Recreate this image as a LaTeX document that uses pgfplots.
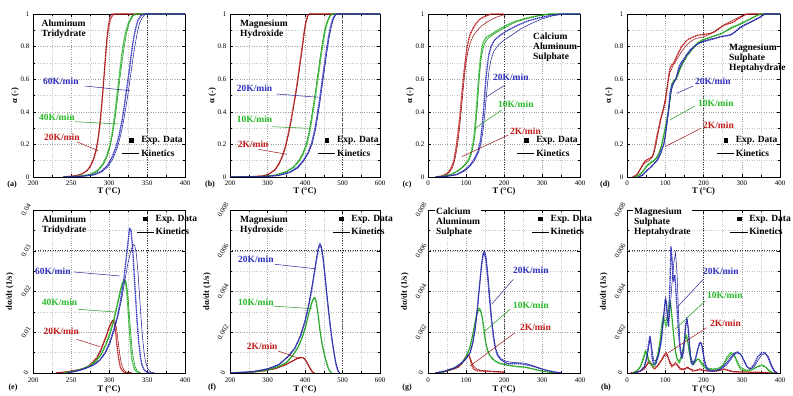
\documentclass[border=0pt]{standalone}
\usepackage{pgfplots}
\pgfplotsset{compat=1.18}
\usepackage{fontspec}
\setmainfont{Liberation Serif}
\definecolor{cR}{RGB}{192,28,28}
\definecolor{cG}{RGB}{40,185,40}
\definecolor{cB}{RGB}{48,48,190}
\newcommand{\labfont}{\fontsize{8.5}{9}\selectfont\bfseries}
\pgfplotsset{
  panel/.style={
    scale only axis, width=152pt, height=163pt,
    axis line style={line width=0.6pt},
    grid=both,
    major grid style={gray!75, dotted, line width=0.45pt},
    minor grid style={gray!45, dotted, line width=0.4pt},
    minor x tick num=1, minor y tick num=1,
    major tick length=3pt, minor tick length=1.6pt,
    tick style={black, line width=0.4pt},
    tick label style={font=\fontsize{7}{8}\selectfont},
    /pgf/number format/assume math mode=true,
    scaled y ticks=false,
    xlabel={T (°C)},
    xticklabel style={yshift=-0.5pt},
    every axis x label/.style={at={(axis description cs:0.5,0)}, anchor=center, yshift=-14.5pt, font=\labfont},
    every axis y label/.style={at={(axis description cs:-0.118,0.5)}, rotate=90, anchor=center, font=\labfont},
    legend cell align=left,
    legend style={draw=none, fill=none, inner sep=0pt,
      font=\fontsize{9.5}{10}\selectfont\bfseries, row sep=1.3pt,
      nodes={inner sep=1.5pt, text height=7pt, text depth=2pt}},
  },
  toprow/.style={ymin=0, ymax=1, ytick={0,0.2,0.4,0.6,0.8,1},
    yticklabels={0,0.2,0.4,0.6,0.8,1}, ylabel={α (-)},
    legend style={at={(0.585,0.262)}, anchor=north west}},
  botrow/.style={ylabel={dα/dt (1/s)},
    every axis y label/.style={at={(axis description cs:-0.152,0.5)}, rotate=90, anchor=center, font=\labfont},
    every axis x label/.append style={yshift=-1.5pt},
    legend style={at={(0.68,0.985)}, anchor=north west},
    xticklabel style={yshift=-1pt},
    yticklabel style={xshift=-7pt, rotate=60, anchor=center}},
  refx/.style={extra x ticks={#1}, extra x tick labels={},
    extra x tick style={grid=major, major grid style={black!80, dotted, line width=0.7pt}, tick style={draw=none}}},
  refy/.style={extra y ticks={#1}, extra y tick labels={},
    extra y tick style={grid=major, major grid style={black!80, dotted, line width=0.7pt}, tick style={draw=none}}},
  exp/.style={line width=1.3pt, dash pattern=on 1.3pt off 0.6pt, line join=round},
  kin/.style={line width=0.55pt},
}
\newcommand{\legendentries}{%
  \addlegendimage{only marks, mark=square*, mark size=1.8pt, black}
  \addlegendentry{Exp. Data}
  \addlegendimage{black, line width=0.6pt}
  \addlegendentry{Kinetics}}
\begin{document}
\begin{tikzpicture}[x=1pt,y=1pt]
\useasboundingbox (0,0) rectangle (793,396);
% ---------------- (a)
\begin{axis}[panel, toprow, at={(33pt,219pt)}, anchor=south west,
  xmin=200, xmax=400, xtick={200,250,300,350,400}, refx=350]
\legendentries
\addplot[exp, cR] coordinates {(240,0)(250,0.005)(260,0.012)(265,0.02)(270,0.035)(275,0.06)(280,0.11)(283,0.16)(286,0.24)(288,0.32)(290,0.42)(292,0.53)(294,0.65)(296,0.77)(298,0.87)(300,0.93)(302,0.97)(305,0.995)(308,1)(400,1)};
\addplot[kin, cR!80!black] coordinates {(240,0)(255,0.006)(265,0.02)(272,0.045)(278,0.09)(283,0.17)(286,0.25)(289,0.37)(291,0.47)(293,0.59)(295,0.72)(297,0.84)(299,0.93)(301,0.98)(303,1)(400,1)};
\addplot[exp, cG] coordinates {(240,0)(260,0.005)(275,0.015)(285,0.04)(292,0.08)(297,0.13)(301,0.19)(304,0.26)(307,0.36)(310,0.48)(313,0.6)(316,0.72)(319,0.82)(322,0.89)(326,0.95)(330,0.985)(334,1)(400,1)};
\addplot[kin, cG!80!black] coordinates {(240,0)(260,0.004)(275,0.013)(285,0.035)(293,0.08)(298,0.13)(302,0.2)(305,0.27)(308,0.36)(311,0.47)(314,0.59)(317,0.7)(320,0.8)(323,0.88)(327,0.95)(332,0.99)(336,1)(400,1)};
\addplot[exp, cB] coordinates {(240,0)(265,0.005)(280,0.015)(290,0.035)(298,0.07)(304,0.12)(309,0.18)(313,0.25)(317,0.34)(320,0.43)(323,0.53)(326,0.63)(329,0.74)(332,0.84)(335,0.91)(338,0.96)(342,0.99)(346,1)(400,1)};
\addplot[kin, cB!80!black] coordinates {(240,0)(265,0.004)(280,0.012)(290,0.03)(298,0.06)(305,0.11)(311,0.18)(315,0.25)(319,0.34)(322,0.42)(325,0.51)(328,0.61)(331,0.71)(334,0.8)(337,0.88)(340,0.94)(344,0.98)(348,1)(400,1)};
\end{axis}
% ---------------- (b)
\begin{axis}[panel, toprow, width=150pt, at={(230pt,219pt)}, anchor=south west,
  xmin=200, xmax=600, xtick={200,300,400,500,600}, refx=500]
\legendentries
\addplot[exp, cR] coordinates {(200,0)(260,0.002)(290,0.008)(305,0.02)(320,0.045)(330,0.08)(340,0.13)(348,0.19)(355,0.26)(362,0.34)(368,0.42)(374,0.5)(380,0.59)(386,0.69)(392,0.79)(397,0.88)(402,0.95)(407,0.99)(410,1)(600,1)};
\addplot[kin, cR!80!black] coordinates {(200,0)(260,0.002)(290,0.007)(305,0.018)(320,0.042)(331,0.08)(341,0.13)(349,0.19)(356,0.26)(363,0.34)(369,0.42)(375,0.5)(381,0.59)(387,0.69)(393,0.79)(398,0.88)(403,0.95)(408,0.99)(411,1)(600,1)};
\addplot[exp, cG] coordinates {(200,0)(280,0.002)(320,0.01)(350,0.03)(370,0.06)(385,0.1)(395,0.14)(405,0.2)(412,0.27)(418,0.35)(424,0.44)(430,0.53)(436,0.63)(442,0.73)(448,0.82)(454,0.9)(460,0.95)(466,0.985)(472,1)(600,1)};
\addplot[kin, cG!80!black] coordinates {(200,0)(280,0.002)(320,0.011)(350,0.033)(368,0.06)(383,0.1)(393,0.14)(403,0.2)(410,0.27)(416,0.35)(422,0.44)(428,0.53)(434,0.63)(440,0.73)(446,0.82)(452,0.9)(458,0.95)(465,0.985)(471,1)(600,1)};
\addplot[exp, cB] coordinates {(200,0)(290,0.002)(330,0.01)(360,0.03)(380,0.06)(395,0.1)(408,0.15)(418,0.21)(426,0.29)(432,0.37)(438,0.46)(444,0.56)(450,0.66)(456,0.76)(462,0.85)(468,0.92)(474,0.97)(480,0.995)(486,1)(600,1)};
\addplot[kin, cB!80!black] coordinates {(200,0)(290,0.002)(330,0.009)(360,0.027)(381,0.055)(397,0.1)(410,0.15)(420,0.21)(428,0.29)(434,0.37)(440,0.46)(446,0.56)(452,0.66)(458,0.76)(464,0.85)(470,0.92)(476,0.97)(482,0.995)(488,1)(600,1)};
\end{axis}
% ---------------- (c)
\begin{axis}[panel, toprow, at={(428pt,219pt)}, anchor=south west,
  xmin=0, xmax=400, xtick={0,100,200,300,400}, refx=200]
\legendentries
\addplot[exp, cR] coordinates {(20,0)(35,0.005)(50,0.02)(60,0.05)(68,0.1)(74,0.18)(79,0.27)(84,0.37)(88,0.48)(92,0.58)(96,0.67)(100,0.75)(104,0.81)(110,0.87)(118,0.91)(126,0.94)(135,0.965)(145,0.98)(155,0.99)(167,1)(200,1)};
\addplot[kin, cR!80!black] coordinates {(20,0)(40,0.006)(55,0.025)(65,0.06)(72,0.12)(78,0.2)(83,0.3)(88,0.42)(92,0.52)(96,0.62)(100,0.7)(105,0.77)(112,0.83)(120,0.87)(130,0.9)(140,0.925)(155,0.95)(170,0.97)(185,0.985)(200,0.995)};
\addplot[exp, cG] coordinates {(20,0)(40,0.005)(60,0.015)(80,0.04)(95,0.07)(105,0.1)(112,0.14)(118,0.2)(122,0.27)(125,0.35)(128,0.44)(131,0.54)(134,0.63)(137,0.71)(141,0.78)(146,0.83)(155,0.86)(170,0.88)(190,0.91)(210,0.935)(230,0.955)(260,0.975)(290,0.99)(320,1)(400,1)};
\addplot[kin, cG!80!black] coordinates {(20,0)(40,0.005)(60,0.014)(80,0.038)(96,0.07)(107,0.1)(114,0.14)(120,0.2)(124,0.27)(127,0.35)(130,0.44)(133,0.54)(136,0.63)(139,0.71)(143,0.77)(149,0.82)(158,0.85)(172,0.875)(190,0.9)(210,0.925)(230,0.95)(260,0.972)(290,0.988)(320,1)(400,1)};
\addplot[exp, cB] coordinates {(20,0)(50,0.005)(75,0.015)(95,0.04)(110,0.07)(122,0.11)(132,0.16)(138,0.22)(142,0.3)(146,0.4)(149,0.5)(152,0.59)(156,0.68)(160,0.75)(166,0.8)(175,0.84)(190,0.87)(210,0.9)(235,0.93)(260,0.955)(290,0.975)(320,0.99)(350,1)(400,1)};
\addplot[kin, cB!80!black] coordinates {(20,0)(50,0.004)(75,0.013)(95,0.035)(110,0.065)(122,0.1)(133,0.15)(140,0.21)(145,0.29)(149,0.38)(153,0.48)(157,0.58)(161,0.66)(166,0.72)(173,0.77)(185,0.81)(200,0.84)(220,0.87)(245,0.91)(270,0.94)(300,0.97)(330,0.99)(360,1)(400,1)};
\end{axis}
% ---------------- (d)
\begin{axis}[panel, toprow, width=153pt, at={(627pt,219pt)}, anchor=south west,
  xmin=0, xmax=400, xtick={0,100,200,300,400}, refx=200]
\legendentries
\addplot[exp, cR] coordinates {(15,0)(25,0.01)(35,0.05)(42,0.08)(48,0.1)(56,0.11)(65,0.12)(70,0.15)(74,0.2)(78,0.25)(83,0.3)(87,0.35)(91,0.38)(96,0.42)(100,0.46)(104,0.53)(109,0.62)(113,0.67)(118,0.69)(122,0.7)(130,0.74)(136,0.77)(143,0.8)(150,0.82)(157,0.84)(165,0.85)(174,0.86)(185,0.87)(200,0.875)(217,0.88)(228,0.89)(240,0.91)(252,0.93)(265,0.94)(278,0.95)(290,0.97)(304,0.99)(313,1)(400,1)};
\addplot[kin, cR!80!black] coordinates {(15,0)(28,0.02)(38,0.06)(48,0.09)(58,0.1)(68,0.13)(76,0.2)(84,0.3)(92,0.39)(100,0.48)(106,0.57)(112,0.64)(120,0.68)(130,0.72)(140,0.76)(152,0.8)(165,0.83)(180,0.85)(200,0.86)(220,0.88)(240,0.91)(258,0.94)(275,0.96)(292,0.98)(308,0.995)(320,1)(400,1)};
\addplot[exp, cG] coordinates {(20,0)(30,0.01)(40,0.03)(52,0.07)(62,0.09)(70,0.1)(78,0.12)(85,0.15)(91,0.2)(97,0.27)(104,0.35)(109,0.42)(113,0.5)(117,0.57)(122,0.59)(128,0.6)(134,0.63)(139,0.67)(147,0.71)(157,0.75)(168,0.78)(183,0.82)(196,0.84)(209,0.85)(222,0.86)(235,0.87)(248,0.88)(261,0.9)(274,0.92)(287,0.93)(300,0.945)(313,0.96)(330,0.98)(348,1)(400,1)};
\addplot[kin, cG!80!black] coordinates {(20,0)(32,0.01)(42,0.035)(52,0.065)(62,0.085)(72,0.1)(82,0.14)(90,0.19)(97,0.26)(104,0.34)(110,0.43)(115,0.52)(120,0.57)(127,0.6)(135,0.64)(145,0.69)(157,0.74)(170,0.78)(185,0.82)(200,0.84)(220,0.86)(240,0.875)(260,0.895)(280,0.92)(300,0.94)(320,0.965)(340,0.99)(350,1)(400,1)};
\addplot[exp, cB] coordinates {(30,0)(40,0.01)(52,0.04)(62,0.06)(70,0.08)(78,0.1)(87,0.15)(96,0.2)(100,0.25)(104,0.33)(109,0.42)(113,0.52)(117,0.56)(122,0.58)(128,0.6)(135,0.67)(141,0.7)(148,0.72)(156,0.75)(165,0.78)(176,0.8)(187,0.82)(200,0.83)(215,0.84)(230,0.85)(243,0.86)(257,0.865)(270,0.87)(283,0.89)(296,0.92)(309,0.935)(322,0.95)(335,0.965)(348,0.98)(360,1)(400,1)};
\addplot[kin, cB!80!black] coordinates {(30,0)(42,0.015)(52,0.04)(62,0.06)(72,0.085)(82,0.11)(90,0.15)(97,0.21)(102,0.28)(107,0.37)(112,0.47)(117,0.54)(123,0.58)(130,0.62)(138,0.67)(147,0.71)(157,0.75)(168,0.78)(180,0.81)(195,0.83)(215,0.845)(235,0.855)(255,0.865)(272,0.875)(288,0.9)(304,0.925)(320,0.945)(336,0.965)(350,0.985)(362,1)(400,1)};
\end{axis}
% ---------------- (e)
\begin{axis}[panel, botrow, at={(33pt,23pt)}, anchor=south west,
  xmin=200, xmax=400, xtick={200,250,300,350,400}, refx=350,
  ymin=0, ymax=0.04, ytick={0,0.01,0.02,0.03,0.04}, yticklabels={0,0.01,0.02,0.03,0.04}, refy=0.03]
\legendentries
\addplot[exp, cR] coordinates {(230,0)(245,0.0003)(255,0.0006)(265,0.001)(272,0.0016)(278,0.0025)(284,0.0038)(289,0.0056)(293,0.0075)(297,0.0095)(300,0.0112)(303,0.0124)(305,0.0129)(307,0.0122)(309,0.0095)(311,0.006)(313,0.0032)(315,0.0014)(318,0.0004)(322,0.0001)(330,0)};
\addplot[kin, cR!80!black] coordinates {(230,0)(245,0.0003)(255,0.0006)(265,0.001)(272,0.0015)(278,0.0024)(284,0.0036)(289,0.0054)(293,0.0072)(297,0.0092)(300,0.011)(303,0.0123)(306,0.013)(308,0.0126)(310,0.0108)(312,0.0078)(314,0.0048)(316,0.0025)(319,0.0009)(323,0.0002)(330,0)};
\addplot[exp, cG] coordinates {(240,0)(255,0.0005)(265,0.001)(275,0.0018)(283,0.003)(290,0.0048)(296,0.0072)(301,0.0098)(306,0.013)(310,0.0162)(314,0.0195)(317,0.0218)(320,0.023)(322,0.0222)(324,0.0185)(326,0.013)(328,0.0075)(330,0.0035)(333,0.0012)(336,0.0003)(340,0)};
\addplot[kin, cG!80!black] coordinates {(240,0)(255,0.0005)(265,0.001)(275,0.0017)(283,0.0028)(290,0.0045)(296,0.0068)(302,0.0098)(307,0.0132)(311,0.0165)(315,0.0198)(318,0.0219)(321,0.0228)(323,0.022)(325,0.0188)(327,0.0138)(329,0.0088)(331,0.0048)(334,0.0018)(337,0.0005)(342,0)};
\addplot[exp, cB] coordinates {(245,0)(260,0.0006)(270,0.0012)(280,0.002)(288,0.0032)(295,0.005)(301,0.0075)(306,0.0105)(311,0.0138)(315,0.0175)(319,0.0222)(322,0.027)(325,0.032)(327,0.0355)(329,0.035)(331,0.031)(333,0.0245)(335,0.0185)(337,0.0125)(339,0.0078)(341,0.0045)(343,0.0022)(346,0.0008)(350,0.0002)(355,0)};
\addplot[kin, cB!80!black] coordinates {(245,0)(260,0.0006)(270,0.0012)(280,0.002)(288,0.0031)(295,0.0048)(301,0.0072)(307,0.0105)(312,0.0142)(317,0.0185)(321,0.0228)(325,0.027)(329,0.0302)(332,0.0315)(334,0.0312)(336,0.0292)(338,0.025)(340,0.0195)(342,0.014)(344,0.009)(346,0.0053)(348,0.0028)(351,0.001)(355,0.0002)(360,0)};
\end{axis}
% ---------------- (f)
\begin{axis}[panel, botrow, width=150pt, at={(230pt,23pt)}, anchor=south west,
  xmin=200, xmax=600, xtick={200,300,400,500,600}, refx=500,
  ymin=0, ymax=0.008, ytick={0,0.002,0.004,0.006,0.008}, yticklabels={0,0.002,0.004,0.006,0.008}, refy=0.006]
\legendentries
\addplot[exp, cR] coordinates {(200,0)(250,0.00003)(290,0.0001)(320,0.00022)(340,0.00035)(355,0.00048)(368,0.0006)(378,0.0007)(386,0.00075)(392,0.00076)(398,0.0007)(404,0.00055)(410,0.00035)(415,0.00018)(420,0.00005)(425,0)};
\addplot[kin, cR!80!black] coordinates {(200,0)(250,0.00003)(290,0.0001)(320,0.0002)(340,0.00034)(355,0.00047)(368,0.0006)(378,0.0007)(386,0.00076)(393,0.00077)(399,0.0007)(405,0.00054)(411,0.00033)(416,0.00016)(421,0.00004)(426,0)};
\addplot[exp, cG] coordinates {(200,0)(260,0.00005)(300,0.00015)(330,0.00032)(350,0.0005)(365,0.0008)(380,0.0012)(392,0.0017)(402,0.0023)(410,0.0029)(416,0.0033)(421,0.0036)(426,0.0037)(430,0.0035)(435,0.0029)(440,0.0021)(446,0.0014)(452,0.0009)(458,0.0005)(463,0.0002)(468,0.00005)(472,0)};
\addplot[kin, cG!80!black] coordinates {(200,0)(260,0.00005)(300,0.00016)(330,0.00033)(350,0.00052)(365,0.00082)(380,0.00122)(392,0.00172)(402,0.00232)(410,0.00292)(416,0.00332)(421,0.0036)(425,0.00372)(429,0.00355)(434,0.003)(439,0.0022)(445,0.00145)(451,0.00092)(457,0.0005)(462,0.00022)(467,0.00006)(471,0)};
\addplot[exp, cB] coordinates {(200,0)(260,0.00006)(300,0.0002)(330,0.0004)(355,0.0008)(373,0.0012)(388,0.0018)(400,0.0025)(410,0.0033)(418,0.0041)(425,0.0049)(431,0.0056)(436,0.0061)(440,0.0063)(444,0.0061)(449,0.0055)(454,0.0046)(460,0.0035)(466,0.0025)(472,0.0016)(478,0.0009)(483,0.0004)(488,0.0001)(492,0)};
\addplot[kin, cB!80!black] coordinates {(200,0)(260,0.00006)(300,0.0002)(330,0.00042)(355,0.00082)(373,0.00125)(388,0.00185)(400,0.0026)(410,0.0034)(418,0.0042)(425,0.005)(431,0.0057)(436,0.0062)(440,0.00637)(444,0.0062)(449,0.0056)(454,0.0047)(460,0.0036)(466,0.0026)(472,0.0017)(478,0.00095)(483,0.00045)(488,0.00012)(493,0)};
\end{axis}
% ---------------- (g)
\begin{axis}[panel, botrow, at={(428pt,23pt)}, anchor=south west,
  xmin=0, xmax=400, xtick={0,100,200,300,400}, refx=200,
  ymin=0, ymax=0.008, ytick={0,0.002,0.004,0.006,0.008}, yticklabels={0,0.002,0.004,0.006,0.008}, refy=0.006]
\legendentries
\addplot[exp, cR] coordinates {(20,0)(40,0.00005)(55,0.00012)(70,0.00022)(80,0.0003)(88,0.00045)(95,0.00065)(100,0.00082)(104,0.0009)(108,0.00085)(112,0.0006)(116,0.00035)(120,0.0002)(128,0.00012)(140,0.0001)(160,0.00008)(180,0.00006)(200,0.00004)};
\addplot[kin, cR!80!black] coordinates {(20,0)(40,0.00005)(55,0.00012)(70,0.0002)(80,0.0003)(88,0.00043)(95,0.0006)(100,0.00075)(104,0.00085)(108,0.00085)(112,0.0007)(116,0.0005)(120,0.00033)(128,0.0002)(140,0.00013)(160,0.0001)(180,0.00007)(200,0.00005)};
\addplot[exp, cG] coordinates {(20,0)(40,0.00005)(54,0.00015)(70,0.00025)(89,0.0005)(100,0.00075)(111,0.0013)(118,0.0019)(124,0.0025)(130,0.003)(134,0.0032)(138,0.0031)(142,0.0028)(146,0.0023)(150,0.0017)(155,0.0012)(161,0.0009)(167,0.00075)(175,0.0006)(185,0.0005)(202,0.0004)(220,0.00035)(237,0.0003)(250,0.0003)(263,0.00025)(280,0.00018)(298,0.0001)(315,0.00005)(334,0)};
\addplot[kin, cG!80!black] coordinates {(20,0)(40,0.00005)(54,0.00014)(70,0.00025)(89,0.0005)(100,0.00078)(111,0.0013)(118,0.0019)(124,0.0025)(130,0.00295)(135,0.0031)(139,0.003)(143,0.0027)(147,0.0022)(151,0.0016)(156,0.0012)(162,0.0009)(168,0.00075)(176,0.0006)(186,0.0005)(202,0.00042)(220,0.00036)(237,0.00032)(250,0.0003)(263,0.00026)(280,0.00018)(298,0.0001)(315,0.00005)(334,0)};
\addplot[exp, cB] coordinates {(20,0)(45,0.0001)(70,0.00025)(89,0.0005)(100,0.0007)(111,0.001)(118,0.0015)(124,0.0022)(130,0.0032)(136,0.0044)(141,0.0053)(145,0.0058)(148,0.0059)(152,0.0056)(156,0.0049)(159,0.0043)(163,0.0034)(167,0.0026)(172,0.0018)(176,0.0013)(182,0.0009)(189,0.0007)(200,0.00055)(211,0.00045)(230,0.00045)(246,0.00045)(260,0.0004)(272,0.00035)(285,0.00028)(298,0.0002)(315,0.00012)(333,0.00005)(351,0)};
\addplot[kin, cB!80!black] coordinates {(20,0)(45,0.0001)(70,0.00025)(89,0.00048)(100,0.00068)(111,0.001)(118,0.0015)(124,0.0021)(130,0.0031)(136,0.0043)(141,0.0053)(145,0.0059)(149,0.006)(153,0.0057)(157,0.005)(160,0.0043)(164,0.0034)(168,0.0026)(173,0.0018)(178,0.0012)(184,0.0009)(192,0.0007)(205,0.00058)(220,0.00052)(240,0.0005)(255,0.00048)(270,0.0004)(285,0.0003)(300,0.0002)(318,0.0001)(335,0.00004)(352,0)};
\end{axis}
% ---------------- (h)
\begin{axis}[panel, botrow, width=153pt, at={(627pt,23pt)}, anchor=south west,
  xmin=0, xmax=400, xtick={0,100,200,300,400}, refx=200,
  ymin=0, ymax=0.008, ytick={0,0.002,0.004,0.006,0.008}, yticklabels={0,0.002,0.004,0.006,0.008}, refy=0.006,
  legend style={at={(0.673,0.985)}}]
\legendentries
\addplot[exp, cR] coordinates {(10,0)(25,0.00005)(35,0.0001)(45,0.0002)(52,0.0004)(57,0.0006)(62,0.0005)(67,0.0003)(72,0.0002)(78,0.0003)(85,0.0005)(92,0.0007)(98,0.0009)(103,0.001)(107,0.0008)(112,0.0005)(117,0.0003)(122,0.0004)(127,0.0005)(132,0.0004)(138,0.0002)(145,0.00015)(152,0.0002)(158,0.0003)(164,0.0002)(172,0.0001)(180,0.00012)(190,0.0002)(198,0.00015)(210,0.0001)(230,0.00008)(245,0.00015)(255,0.0002)(265,0.00012)(280,0.00005)(300,0.00005)(330,0.00004)(360,0.00002)(390,0)};
\addplot[kin, cR!80!black] coordinates {(10,0)(25,0.00005)(35,0.0001)(45,0.00025)(52,0.0004)(58,0.0005)(64,0.0004)(70,0.0003)(78,0.0003)(86,0.0005)(93,0.0007)(100,0.0009)(105,0.00085)(111,0.0006)(117,0.0004)(124,0.0004)(130,0.0004)(138,0.00025)(146,0.0002)(156,0.00025)(166,0.0002)(178,0.00012)(190,0.00015)(200,0.00012)(215,0.0001)(235,0.0001)(250,0.00015)(262,0.00015)(278,0.00008)(300,0.00005)(340,0.00003)(390,0)};
\addplot[exp, cG] coordinates {(15,0)(25,0.0001)(35,0.0003)(42,0.0007)(46,0.001)(49,0.0011)(53,0.0008)(58,0.0005)(63,0.0004)(68,0.0003)(74,0.0004)(80,0.0008)(86,0.0015)(91,0.0024)(95,0.0028)(99,0.0025)(103,0.0023)(107,0.0029)(111,0.0036)(114,0.0034)(118,0.0026)(122,0.0018)(127,0.001)(132,0.0006)(137,0.0005)(143,0.0008)(149,0.0014)(154,0.0019)(158,0.0017)(163,0.001)(168,0.0005)(173,0.0004)(180,0.0006)(187,0.0007)(193,0.0005)(200,0.0003)(210,0.0002)(225,0.00015)(240,0.0002)(252,0.0004)(262,0.0008)(272,0.001)(280,0.0009)(288,0.0005)(296,0.0002)(310,0.0001)(325,0.00015)(340,0.0003)(352,0.0004)(362,0.0003)(372,0.0001)(382,0)};
\addplot[kin, cG!80!black] coordinates {(15,0)(25,0.0001)(35,0.0003)(42,0.0006)(47,0.0009)(51,0.001)(55,0.0008)(60,0.0005)(66,0.0004)(73,0.0005)(80,0.0009)(87,0.0016)(93,0.0024)(98,0.0026)(103,0.0026)(108,0.003)(112,0.0034)(116,0.0031)(120,0.0023)(125,0.0013)(131,0.0007)(137,0.0006)(143,0.0009)(149,0.0015)(154,0.0018)(159,0.0015)(164,0.0009)(170,0.0005)(177,0.0005)(185,0.0007)(192,0.0006)(200,0.0004)(210,0.00025)(225,0.0002)(240,0.00025)(252,0.0004)(262,0.0007)(272,0.0009)(280,0.0009)(288,0.0006)(296,0.0003)(310,0.00015)(325,0.00015)(340,0.0003)(352,0.00035)(362,0.0003)(372,0.0001)(382,0)};
\addplot[exp, cB] coordinates {(20,0)(35,0.0001)(45,0.0003)(52,0.0008)(57,0.0015)(60,0.0018)(63,0.0014)(66,0.0007)(70,0.0004)(76,0.0005)(83,0.0009)(90,0.0016)(95,0.0026)(100,0.0036)(103,0.0035)(106,0.0026)(109,0.0023)(112,0.0042)(115,0.0062)(118,0.0055)(121,0.0045)(125,0.0048)(128,0.004)(132,0.0028)(136,0.0017)(140,0.001)(144,0.0007)(148,0.0011)(152,0.0021)(156,0.0027)(160,0.0022)(164,0.0011)(168,0.0005)(172,0.0004)(178,0.0006)(184,0.0011)(190,0.0015)(194,0.0015)(198,0.0011)(203,0.0005)(208,0.0002)(215,0.0001)(230,0.0001)(245,0.0002)(260,0.0004)(272,0.0007)(282,0.00095)(290,0.001)(298,0.0009)(306,0.0006)(314,0.0003)(322,0.0002)(332,0.0004)(342,0.0008)(352,0.001)(360,0.001)(368,0.0008)(376,0.0004)(384,0.0001)(392,0)};
\addplot[kin, cB!80!black] coordinates {(20,0)(35,0.0001)(45,0.0003)(52,0.0007)(57,0.0013)(61,0.0017)(65,0.0012)(70,0.0006)(76,0.0006)(84,0.001)(91,0.0018)(97,0.003)(101,0.0037)(105,0.003)(109,0.0025)(113,0.0032)(118,0.0045)(123,0.0055)(127,0.0059)(131,0.0048)(135,0.0028)(139,0.0013)(144,0.0008)(149,0.0014)(154,0.0024)(158,0.0026)(162,0.0018)(167,0.0008)(172,0.0005)(179,0.0007)(186,0.0012)(192,0.0015)(197,0.0013)(202,0.0007)(208,0.0003)(215,0.00015)(230,0.0001)(245,0.0002)(260,0.0005)(272,0.0008)(282,0.001)(290,0.00105)(298,0.0009)(306,0.0006)(314,0.0003)(322,0.0002)(332,0.0003)(342,0.0006)(352,0.0009)(362,0.00095)(370,0.0008)(378,0.0004)(386,0.0001)(394,0)};
\end{axis}
% ---------------- annotations
\tikzset{ann/.style={font=\fontsize{9.5}{10}\selectfont\bfseries, inner sep=0pt, align=left},
         lead/.style={line width=0.5pt}}
% (a)
\node[ann, anchor=north west] at (41.5,376) {Aluminum\\Tridydrate};
\node[ann, anchor=west, text=cB] at (43,315) {60K/min};
\draw[lead, cB!80!black] (85,310) -- (130,305.3);
\node[ann, anchor=west, text=cG] at (39,279) {40K/min};
\draw[lead, cG!80!black] (75,274.3) -- (118.3,272);
\node[ann, anchor=west, text=cR] at (44,259) {20K/min};
\draw[lead, cR!80!black] (76.7,254.3) -- (98.3,245.3);
% (b)
\node[ann, anchor=north west] at (240,376) {Magnesium\\Hydroxide};
\node[ann, anchor=west, text=cB] at (236.7,307.7) {20K/min};
\draw[lead, cB!80!black] (276.7,302) -- (318.3,298.7);
\node[ann, anchor=west, text=cG] at (236.7,277) {10K/min};
\draw[lead, cG!80!black] (272.3,269.3) -- (308.3,267.7);
\node[ann, anchor=west, text=cR] at (237.7,252) {2K/min};
\draw[lead, cR!80!black] (258.3,246.7) -- (286.7,241.7);
% (c)
\node[ann, anchor=north west] at (533,363.5) {Calcium\\Aluminum\\Sulphate};
\node[ann, anchor=west, text=cB] at (493,319) {20K/min};
\draw[lead, cB!80!black] (505,311) -- (486.7,299.3);
\node[ann, anchor=west, text=cG] at (498,292) {10K/min};
\draw[lead, cG!80!black] (501.7,286) -- (475,267.7);
\node[ann, anchor=west, text=cR] at (510,265) {2K/min};
\draw[lead, cR!80!black] (508.3,261) -- (461.7,239.3);
% (d)
\node[ann, anchor=north west] at (729,352.5) {Magnesium\\Sulphate\\Heptahydrate};
\node[ann, anchor=west, text=cB] at (695,314.3) {20K/min};
\draw[lead, cB!80!black] (693.3,310) -- (676.7,302.7);
\node[ann, anchor=west, text=cG] at (698,292.7) {10K/min};
\draw[lead, cG!80!black] (695,290) -- (670,276);
\node[ann, anchor=west, text=cR] at (703,271) {2K/min};
\draw[lead, cR!80!black] (701,267.7) -- (665,249.3);
% (e)
\node[ann, anchor=north west] at (42,180) {Aluminum\\Tridydrate};
\node[ann, anchor=west, text=cB] at (35,125) {60K/min};
\draw[lead, cB!80!black] (74,124) -- (120,120);
\node[ann, anchor=west, text=cG] at (41.7,93.3) {40K/min};
\draw[lead, cG!80!black] (78.3,86.7) -- (115,84);
\node[ann, anchor=west, text=cR] at (43.3,65) {20K/min};
\draw[lead, cR!80!black] (76.7,56.7) -- (100,49.3);
% (f)
\node[ann, anchor=north west] at (240,180) {Magnesium\\Hydroxide};
\node[ann, anchor=west, text=cB] at (238,136.7) {20K/min};
\draw[lead, cB!80!black] (275,131.7) -- (315,127.3);
\node[ann, anchor=west, text=cG] at (238,93.3) {10K/min};
\draw[lead, cG!80!black] (272.3,90) -- (312.3,87.3);
\node[ann, anchor=west, text=cR] at (246.7,49.3) {2K/min};
\draw[lead, cR!80!black] (278.3,45) -- (300,37.3);
% (g)
\node[ann, anchor=north west, fill=white, inner sep=1pt] at (435,189) {Calcium\\Aluminum\\Sulphate};
\node[ann, anchor=west, text=cB] at (513,126) {20K/min};
\draw[lead, cB!80!black] (513.3,116.7) -- (491.7,91.7);
\node[ann, anchor=west, text=cG] at (513,90.7) {10K/min};
\draw[lead, cG!80!black] (510,86.7) -- (485,65);
\node[ann, anchor=west, text=cR] at (520,68.3) {2K/min};
\draw[lead, cR!80!black] (515,63.3) -- (470,30);
% (h)
\node[ann, anchor=north west, fill=white, inner sep=1pt] at (633,189) {Magnesium\\Sulphate\\Heptahydrate};
\node[ann, anchor=west, text=cB] at (703,125) {20K/min};
\draw[lead, cB!80!black] (703.3,116.7) -- (676.7,88.3);
\node[ann, anchor=west, text=cG] at (707,100.7) {10K/min};
\draw[lead, cG!80!black] (705,95) -- (675,66.7);
\node[ann, anchor=west, text=cR] at (710,72.7) {2K/min};
\draw[lead, cR!80!black] (706.7,68.3) -- (668.3,43.3);
% panel letters
\tikzset{plet/.style={font=\fontsize{8}{9}\selectfont\bfseries, inner sep=0pt}}
\node[plet] at (12,211) {(a)};
\node[plet] at (210,211) {(b)};
\node[plet] at (407,211) {(c)};
\node[plet] at (605,211) {(d)};
\node[plet] at (13,8) {(e)};
\node[plet] at (212,8) {(f)};
\node[plet] at (407,8) {(g)};
\node[plet] at (606,8) {(h)};
\end{tikzpicture}
\end{document}
